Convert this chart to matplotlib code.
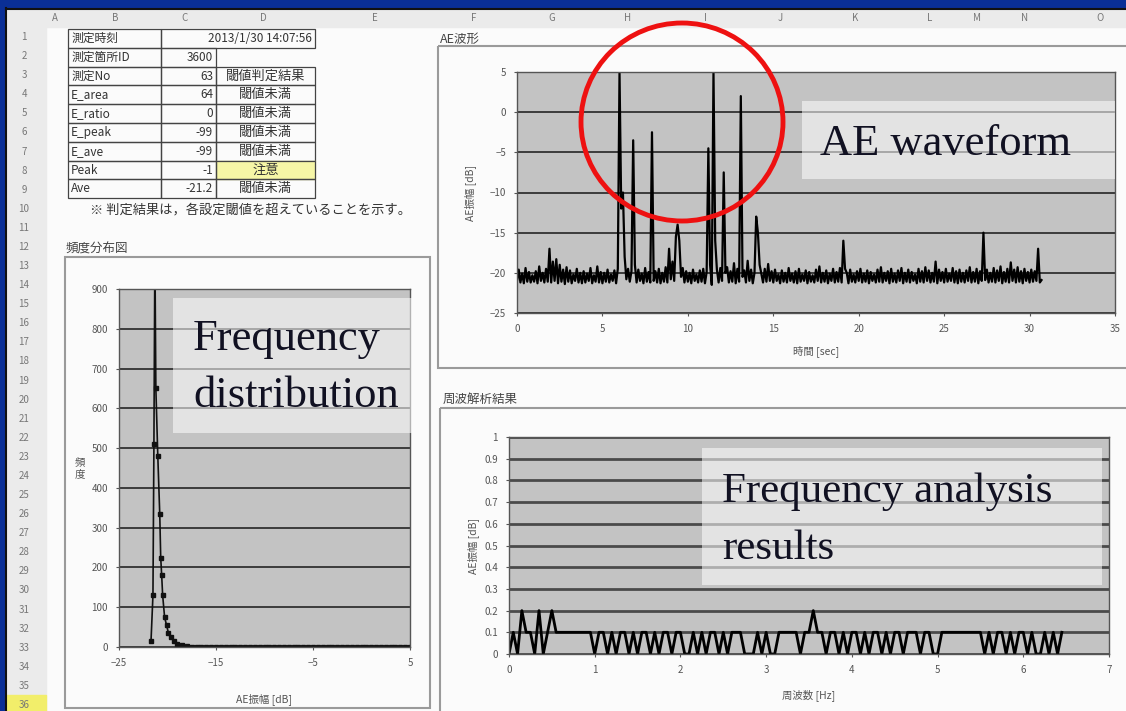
import numpy as np
import matplotlib
matplotlib.use("Agg")
import matplotlib.pyplot as plt
from matplotlib.patches import Rectangle, Ellipse

plt.rcParams['font.family'] = ['Noto Sans CJK JP', 'DejaVu Sans']

# ---- data ----
# AE waveform, one sample every 0.1 s from 0.0 to 30.7 s
wave_dt = 0.1
wave_db = [
    -21.0, -19.6, -21.2, -20.1, -21.3, -19.4, -21.1, -19.9, -21.2, -20.3,
    -21.1, -19.8, -21.3, -19.2, -21.0, -20.0, -21.2, -19.5, -21.1, -17.0,
    -21.2, -18.6, -21.0, -18.3, -21.3, -19.0, -21.1, -19.6, -21.4, -19.3,
    -21.1, -19.7, -21.3, -20.2, -21.0, -19.5, -21.2, -20.0, -21.3, -19.8,
    -21.2, -20.1, -21.0, -19.4, -21.3, -20.3, -21.1, -19.2, -21.2, -19.9,
    -21.3, -20.0, -21.1, -19.6, -21.2, -20.2, -21.0, -19.7, -21.3, -19.5,
    5.0, -12.0, -10.0, -18.0, -20.8, -19.5, -21.1, -19.8, -3.5, -19.0,
    -21.2, -19.6, -21.0, -20.1, -21.3, -19.4, -21.1, -19.9, -21.2, -2.5,
    -21.0, -19.8, -21.2, -19.5, -21.3, -20.0, -21.1, -19.3, -21.2, -17.0,
    -20.8, -18.6, -21.0, -15.5, -14.0, -16.0, -20.5, -19.4, -21.2, -19.8,
    -21.1, -20.0, -21.3, -19.6, -21.0, -20.2, -21.2, -19.7, -21.1, -19.5,
    -21.3, -19.9, -4.5, -19.0, -21.5, 5.0, -16.0, -19.6, -21.2, -19.4,
    -21.0, -7.5, -20.0, -19.3, -21.2, -19.8, -21.1, -18.8, -21.3, -19.5,
    -21.1, 2.0, -20.5, -19.7, -21.2, -18.5, -21.0, -19.6, -21.3, -20.0,
    -13.0, -15.0, -19.0, -20.1, -21.2, -19.5, -21.1, -18.9, -21.0, -19.8,
    -21.2, -19.6, -21.0, -20.2, -21.3, -19.7, -21.1, -20.0, -21.2, -19.4,
    -21.0, -20.1, -21.2, -19.8, -21.3, -19.5, -21.1, -20.2, -21.0, -19.7,
    -21.3, -19.9, -21.1, -20.3, -21.2, -19.6, -21.0, -19.2, -21.2, -20.0,
    -21.1, -19.7, -21.3, -20.1, -21.0, -19.5, -21.2, -19.9, -21.1, -19.4,
    -21.2, -16.0, -19.5, -20.0, -21.3, -19.6, -21.1, -20.2, -21.2, -19.8,
    -21.0, -19.5, -21.2, -20.1, -21.1, -19.7, -21.3, -19.9, -21.0, -20.2,
    -21.2, -19.6, -21.1, -19.3, -21.2, -20.0, -21.0, -19.8, -21.3, -19.5,
    -21.1, -20.1, -21.2, -19.7, -21.0, -19.4, -21.3, -20.0, -21.1, -19.6,
    -21.2, -19.9, -21.0, -20.2, -21.3, -19.5, -21.1, -19.8, -21.2, -19.3,
    -21.0, -19.7, -21.2, -20.0, -21.1, -18.6, -21.3, -19.6, -21.0, -19.9,
    -21.2, -19.5, -21.1, -20.1, -21.0, -19.4, -21.2, -19.8, -21.3, -19.6,
    -21.1, -20.0, -21.2, -19.7, -21.0, -19.3, -21.2, -19.9, -21.1, -19.5,
    -21.3, -19.8, -21.0, -15.0, -20.9, -19.6, -21.2, -20.0, -21.1, -19.4,
    -21.2, -19.7, -21.0, -19.2, -21.3, -19.9, -21.1, -19.5, -21.2, -18.7,
    -21.0, -19.6, -21.2, -19.3, -21.1, -19.8, -21.3, -19.5, -21.0, -19.9,
    -21.2, -19.6, -21.1, -19.8, -21.0, -17.0, -21.2, -20.9,
]

# frequency distribution (AE amplitude dB -> count)
hist_db = [-21.7, -21.5, -21.4, -21.3, -21.2, -21.0, -20.8, -20.7, -20.6, -20.5,
           -20.3, -20.1, -19.9, -19.6, -19.3, -19.0, -18.5, -18.0, -17.5, -17.0,
           -16.5, -16.0, -15.5, -15.0, -14.5, -14.0, -13.5, -13.0, -12.5, -12.0,
           -11.5, -11.0, -10.5, -10.0, -9.5, -9.0, -8.5, -8.0, -7.5, -7.0,
           -6.5, -6.0, -5.5, -5.0, -4.5, -4.0, -3.5, -3.0, -2.5, -2.0,
           -1.5, -1.0, -0.5, 0.0, 0.5, 1.0, 1.5, 2.0, 2.5, 3.0,
           3.5, 4.0, 4.5, 5.0]
hist_cnt = [15, 130, 510, 1000, 650, 480, 335, 225, 180, 130,
            75, 55, 35, 25, 15, 8, 4, 2, 1, 1,
            0, 0, 0, 0, 0, 0, 0, 0, 0, 0,
            0, 0, 0, 0, 0, 0, 0, 0, 0, 0,
            0, 0, 0, 0, 0, 0, 0, 0, 0, 0,
            0, 0, 0, 0, 0, 0, 0, 0, 0, 0,
            0, 0, 0, 0]

# frequency analysis, one value every 0.05 Hz from 0 to 6.45 Hz
freq_df = 0.05
freq_amp = [
    0, 0.1, 0, 0.2, 0.1, 0.1, 0, 0.2, 0, 0.1, 0.2, 0.1, 0.1, 0.1, 0.1, 0.1, 0.1, 0.1, 0.1, 0.1,
    0, 0.1, 0.1, 0, 0.1, 0, 0.1, 0.1, 0, 0.1, 0, 0.1, 0.1, 0, 0.1, 0, 0.1, 0.1, 0, 0.1,
    0.1, 0, 0, 0.1, 0, 0.1, 0, 0.1, 0.1, 0, 0.1, 0, 0.1, 0.1, 0.1, 0, 0, 0, 0.1, 0,
    0.1, 0, 0, 0.1, 0.1, 0.1, 0.1, 0.1, 0, 0.1, 0.1, 0.2, 0.1, 0.1, 0, 0.1, 0.1, 0, 0.1, 0,
    0.1, 0.1, 0, 0.1, 0, 0.1, 0.1, 0, 0.1, 0, 0.1, 0.1, 0, 0.1, 0.1, 0.1, 0, 0.1, 0.1, 0,
    0, 0.1, 0.1, 0.1, 0.1, 0.1, 0.1, 0.1, 0.1, 0.1, 0.1, 0, 0.1, 0, 0.1, 0.1, 0, 0.1, 0, 0.1,
    0.1, 0, 0.1, 0, 0, 0.1, 0, 0.1, 0, 0.1,
]

# spreadsheet table
col_letters = ['A', 'B', 'C', 'D', 'E', 'F', 'G', 'H', 'I', 'J', 'K', 'L', 'M', 'N', 'O']
col_pos = [55, 115, 185, 263, 375, 474, 552, 628, 705, 780, 855, 930, 977, 1025, 1100]
tbl_labels = ['測定時刻', '測定箇所ID', '測定No', 'E_area', 'E_ratio', 'E_peak', 'E_ave', 'Peak', 'Ave']
tbl_values = ['2013/1/30 14:07:56', '3600', '63', '64', '0', '-99', '-99', '-1', '-21.2']
tbl_judge = ['', '', '閾値判定結果', '閾値未満', '閾値未満', '閾値未満', '閾値未満', '注意', '閾値未満']
note = '※ 判定結果は，各設定閾値を超えていることを示す。'

W, H = 1126, 711
fig = plt.figure(figsize=(W / 100, H / 100), dpi=100)


def box(x0, y0, x1, y1):
    return [x0 / W, 1 - y1 / H, (x1 - x0) / W, (y1 - y0) / H]


bg = fig.add_axes([0, 0, 1, 1])
bg.set_xlim(0, W)
bg.set_ylim(H, 0)
bg.axis('off')

# sheet + frame
bg.add_patch(Rectangle((0, 0), W, H, color='#fbfbfb'))
bg.add_patch(Rectangle((0, 0), W, 8, color='#0a2f96'))
bg.add_patch(Rectangle((0, 0), 5, H, color='#0a2f96'))
bg.plot([6, W], [8.5, 8.5], color='#111111', lw=1.5)
bg.plot([5.5, 5.5], [8, H], color='#111111', lw=1.5)
bg.add_patch(Rectangle((6, 9), W, 18, color='#ebebeb'))
bg.add_patch(Rectangle((6, 27), 40, H, color='#ebebeb'))
for l, x in zip(col_letters, col_pos):
    bg.text(x, 18, l, ha='center', va='center', fontsize=7, color='#777777')
row_h = (705 - 37) / 35
bg.add_patch(Rectangle((6, 705 - row_h / 2), 40, row_h, color='#f2ee6a'))
for r in range(1, 37):
    bg.text(24, 37 + (r - 1) * row_h, str(r), ha='center', va='center', fontsize=7, color='#777777')

# table
tx = [68, 161, 216, 315]
ty0, th = 29, 18.8
for i in range(9):
    y0 = ty0 + i * th
    yc = y0 + th / 2
    if i == 7:
        bg.add_patch(Rectangle((tx[2], y0), tx[3] - tx[2], th, color='#f6f6a6'))
    bg.add_patch(Rectangle((tx[0], y0), tx[1] - tx[0], th, fill=False, ec='#444444', lw=0.9))
    if i == 0:
        bg.add_patch(Rectangle((tx[1], y0), tx[3] - tx[1], th, fill=False, ec='#444444', lw=0.9))
        bg.text(tx[3] - 3, yc, tbl_values[i], ha='right', va='center', fontsize=8.5, color='#333333')
    else:
        bg.add_patch(Rectangle((tx[1], y0), tx[2] - tx[1], th, fill=False, ec='#444444', lw=0.9))
        bg.text(tx[2] - 3, yc, tbl_values[i], ha='right', va='center', fontsize=8.5, color='#333333')
        if tbl_judge[i]:
            bg.add_patch(Rectangle((tx[2], y0), tx[3] - tx[2], th, fill=False, ec='#444444', lw=0.9))
            bg.text((tx[2] + tx[3]) / 2, yc, tbl_judge[i], ha='center', va='center', fontsize=9.5, color='#333333')
    bg.text(tx[0] + 3, yc, tbl_labels[i], ha='left', va='center', fontsize=8.5, color='#333333')
bg.text(90, 210, note, ha='left', va='center', fontsize=9.5, color='#333333')

# chart frames and titles
bg.add_patch(Rectangle((438, 46), W, 322, fill=False, ec='#9a9a9a', lw=1.5))
bg.add_patch(Rectangle((65, 257), 365, 451, fill=False, ec='#9a9a9a', lw=1.5))
bg.add_patch(Rectangle((440, 408), W, 320, fill=False, ec='#9a9a9a', lw=1.5))
bg.text(440, 39, 'AE波形', ha='left', va='center', fontsize=9, color='#444444')
bg.text(66, 249, '頻度分布図', ha='left', va='center', fontsize=9, color='#444444')
bg.text(443, 399, '周波解析結果', ha='left', va='center', fontsize=9, color='#444444')

plot_bg = '#c3c3c3'
grid_c = '#3c3c3c'


def style(ax):
    ax.set_facecolor(plot_bg)
    for s in ax.spines.values():
        s.set_color('#555555')
        s.set_linewidth(1)
    ax.tick_params(length=2, labelsize=7, colors='#555555', pad=6)
    ax.grid(axis='y', color=grid_c, lw=1.4)
    ax.set_axisbelow(True)


# AE waveform
ax1 = fig.add_axes(box(517, 72, 1115, 313))
t = np.arange(len(wave_db)) * wave_dt
ax1.plot(t, wave_db, color='black', lw=1.6)
ax1.set_xlim(0, 35)
ax1.set_ylim(-25, 5)
ax1.set_xticks(range(0, 36, 5))
ax1.set_yticks(range(-25, 6, 5))
style(ax1)
ax1.set_xlabel('時間 [sec]', fontsize=7.5, color='#555555', labelpad=8)
ax1.set_ylabel('AE振幅 [dB]', fontsize=7.5, color='#555555', labelpad=10)

# frequency distribution
ax2 = fig.add_axes(box(119, 289, 410, 647))
ax2.plot(hist_db, hist_cnt, color='#111111', lw=1.2, marker='s', ms=2.5)
ax2.set_xlim(-25, 5)
ax2.set_ylim(0, 900)
ax2.set_xticks([-25, -15, -5, 5])
ax2.set_yticks(range(0, 901, 100))
style(ax2)
ax2.set_xlabel('AE振幅 [dB]', fontsize=7.5, color='#555555', labelpad=18)
ax2.set_ylabel('頻\n度', fontsize=7.5, color='#555555', rotation=0, labelpad=8, va='center')

# frequency analysis
ax3 = fig.add_axes(box(509, 437, 1109, 654))
f = np.arange(len(freq_amp)) * freq_df
ax3.plot(f, freq_amp, color='black', lw=2)
ax3.set_xlim(0, 7)
ax3.set_ylim(0, 1)
ax3.set_xticks(range(0, 8))
ax3.set_yticks(np.arange(0, 1.01, 0.1))
ax3.set_yticklabels(['0', '0.1', '0.2', '0.3', '0.4', '0.5', '0.6', '0.7', '0.8', '0.9', '1'])
style(ax3)
ax3.grid(axis='y', color='#4a4a4a', lw=2)
ax3.set_xlabel('周波数 [Hz]', fontsize=7.5, color='#555555', labelpad=10)
ax3.set_ylabel('AE振幅 [dB]', fontsize=7.5, color='#555555', labelpad=4)

# overlay captions
ov = fig.add_axes([0, 0, 1, 1])
ov.set_xlim(0, W)
ov.set_ylim(H, 0)
ov.axis('off')
ov.patch.set_alpha(0)
serif = 'Liberation Serif'
ov.add_patch(Rectangle((802, 101), 313, 78, color='white', alpha=0.55, lw=0))
ov.text(820, 155, 'AE waveform', family=serif, fontsize=32, color='#111122', va='baseline')
ov.add_patch(Rectangle((173, 298), 239, 135, color='white', alpha=0.55, lw=0))
ov.text(193, 350, 'Frequency', family=serif, fontsize=32, color='#111122', va='baseline')
ov.text(193, 407, 'distribution', family=serif, fontsize=32, color='#111122', va='baseline')
ov.add_patch(Rectangle((702, 448), 400, 137, color='white', alpha=0.55, lw=0))
ov.text(722, 502, 'Frequency analysis', family=serif, fontsize=31, color='#111122', va='baseline')
ov.text(722, 559, 'results', family=serif, fontsize=31, color='#111122', va='baseline')
ov.add_patch(Ellipse((682, 122), 202, 198, fill=False, ec='#ee1111', lw=3.5))

fig.savefig('out.png', dpi=100)
